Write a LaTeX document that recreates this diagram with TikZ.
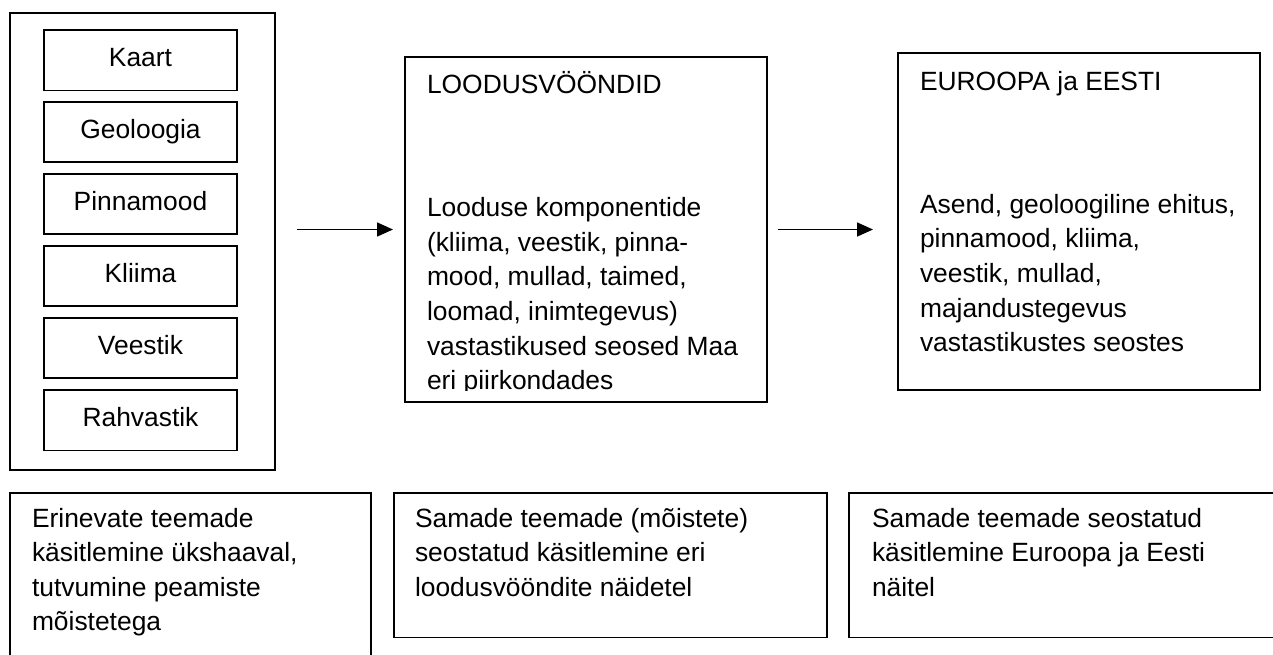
\documentclass[tikz,border=0pt]{standalone}
\usepackage{fontspec}
\setmainfont{Liberation Sans}
\usetikzlibrary{arrows.meta}
\tikzset{
  boxframe/.style={draw, line width=1.8pt, inner sep=0pt, outer sep=0pt},
  itembox/.style={boxframe, minimum width=193pt, minimum height=60.5pt, text height=19pt, text depth=7pt, font=\fontsize{26.4}{34.6}\selectfont},
  txt/.style={inner sep=0pt, outer sep=0pt, align=left, anchor=north west, font=\fontsize{26.4}{34.6}\selectfont},
  ttl/.style={inner sep=0pt, outer sep=0pt, anchor=base west, font=\fontsize{26.4}{34.6}\selectfont},
  arr/.style={line width=1.6pt, -{Triangle[length=16pt,width=14pt]}}
}
\begin{document}
\begin{tikzpicture}[x=1pt,y=-1pt]
\clip (0,0) rectangle (1273,654);
% left column
\node[boxframe, minimum width=265pt, minimum height=457pt] (outer) at (142.5,241.5) {};
\node[itembox] (kaart) at (140.5,60.3) {Kaart};
\node[itembox] (geol) at (140.5,132) {Geoloogia};
\node[itembox] (pinna) at (140.5,204) {Pinnamood};
\node[itembox] (kliima) at (140.5,276) {Kliima};
\node[itembox] (vees) at (140.5,348) {Veestik};
\node[itembox] (rahv) at (140.5,420.3) {Rahvastik};
% middle box
\node[boxframe, minimum width=362pt, minimum height=345pt] (mid) at (586,229.5) {};
\node[ttl] (midttl) at (427,93) {LOODUSVÖÖNDID};
\begin{scope}
\clip (405,57) rectangle (767,390);
\node[txt] (midtxt) at (427,192.5) {\strut Looduse komponentide\\(kliima, veestik, pinna-\\mood, mullad, taimed,\\loomad, inimtegevus)\\vastastikused seosed Maa\\eri piirkondades};
\end{scope}
% right box
\node[boxframe, minimum width=362pt, minimum height=337pt] (right) at (1079,221.5) {};
\node[ttl] (rightttl) at (920,90) {EUROOPA ja EESTI};
\node[txt] (righttxt) at (920,189.1) {\strut Asend, geoloogiline ehitus,\\pinnamood, kliima,\\veestik, mullad,\\majandustegevus\\vastastikustes seostes};
% arrows
\draw[arr, shorten <=22pt, shorten >=12pt] (outer.east |- mid.west) -- (mid.west);
\draw[arr, shorten <=11pt, shorten >=25pt] (mid.east) -- (mid.east -| right.west);
% bottom boxes
\node[boxframe, minimum width=361pt, minimum height=207pt] (b1) at (190.5,596.5) {};
\node[txt] (b1txt) at (32,502.8) {\strut Erinevate teemade\\käsitlemine ükshaaval,\\tutvumine peamiste\\mõistetega};
\node[boxframe, minimum width=433pt, minimum height=144.5pt] (b2) at (610.5,565.25) {};
\node[txt] (b2txt) at (415,502.8) {\strut Samade teemade (mõistete)\\seostatud käsitlemine eri\\loodusvööndite näidetel};
\node[boxframe, minimum width=471pt, minimum height=144.5pt] (b3) at (1084.5,565.25) {};
\node[txt] (b3txt) at (872,502.8) {\strut Samade teemade seostatud\\käsitlemine Euroopa ja Eesti\\näitel};
\end{tikzpicture}
\end{document}
